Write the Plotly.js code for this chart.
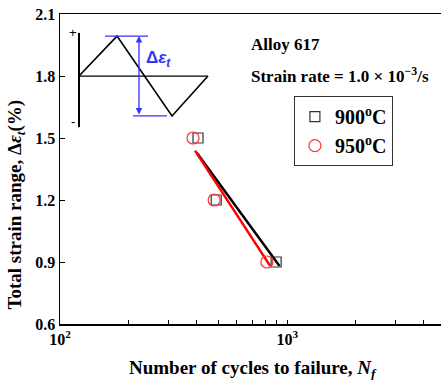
<!DOCTYPE html>
<html><head><meta charset="utf-8">
<script src="https://cdn.plot.ly/plotly-3.0.1.min.js"></script>
<style>html,body{margin:0;padding:0;overflow:hidden;background:#fff}</style>
</head><body><div id="chart"></div>
<script>
// Data
const cycles900 = [405, 487, 894];
const strain900 = [1.5, 1.2, 0.9];
const cycles950 = [385, 477, 814];
const strain950 = [1.5, 1.2, 0.9];
const fitCycles900 = [400, 925];
const fitStrain900 = [1.429, 0.881];
const fitCycles950 = [393, 841];
const fitStrain950 = [1.439, 0.881];
const xTickVals = [100,200,300,400,500,600,700,800,900,1000,2000,3000,4000,5000];
const xTickText = ['10<sup>2</sup>','','','','','','','','','10<sup>3</sup>','','','',''];
const yTickVals = [0.6,0.9,1.2,1.5,1.8,2.1];
// Inset schematic (time, strain in normalized units)
const waveT = [0, 38, 93, 129];
const waveS = [0, 1, -1, 0];
const baseT = [0, 129];
const baseS = [0, 0];
const barT = [0, 0];
const barS = [1.08, -1.28];
const topT = [26, 69], topS = [1, 1];
const botT = [54, 88], botS = [-1, -1];

const serif = 'Liberation Serif, Times New Roman, serif';
const traces = [
  {x: fitCycles900, y: fitStrain900, mode:'lines', line:{color:'#000', width:2.5}, showlegend:false, hoverinfo:'skip'},
  {x: fitCycles950, y: fitStrain950, mode:'lines', line:{color:'#ff0000', width:2.5}, showlegend:false, hoverinfo:'skip'},
  {x: cycles900, y: strain900, mode:'markers', name:'900<sup>o</sup>C',
   marker:{symbol:'square-open', size:10, color:'#333', line:{width:1.2}}},
  {x: cycles950, y: strain950, mode:'markers', name:'950<sup>o</sup>C',
   marker:{symbol:'circle-open', size:12, color:'#ff3030', line:{width:1.2}}},
  {x: waveT, y: waveS, xaxis:'x2', yaxis:'y2', mode:'lines', line:{color:'#000', width:1.6}, showlegend:false, hoverinfo:'skip'},
  {x: baseT, y: baseS, xaxis:'x2', yaxis:'y2', mode:'lines', line:{color:'#000', width:1.3}, showlegend:false, hoverinfo:'skip'},
  {x: barT, y: barS, xaxis:'x2', yaxis:'y2', mode:'lines', line:{color:'#000', width:2}, showlegend:false, hoverinfo:'skip'},
  {x: topT, y: topS, xaxis:'x2', yaxis:'y2', mode:'lines', line:{color:'#3333ff', width:1.3}, showlegend:false, hoverinfo:'skip'},
  {x: botT, y: botS, xaxis:'x2', yaxis:'y2', mode:'lines', line:{color:'#3333ff', width:1.3}, showlegend:false, hoverinfo:'skip'}
];

const layout = {
  width: 450, height: 380,
  margin: {l:60, r:4, t:14, b:56},
  paper_bgcolor:'#fff', plot_bgcolor:'#fff',
  showlegend: true,
  legend: {x:0.606, y:0.735, xanchor:'left', yanchor:'top', bordercolor:'#333', borderwidth:1,
           font:{family:serif, size:20, weight:'bold', color:'#000'}, bgcolor:'#fff', tracegroupgap:0},
  xaxis: {type:'log', range:[2, Math.log10(5000)], showgrid:false, zeroline:false,
          showline:true, linecolor:'#000', linewidth:1.5, mirror:true,
          ticks:'inside', ticklen:4, tickwidth:1, tickcolor:'#000',
          tickmode:'array', tickvals:xTickVals, ticktext:xTickText,
          tickfont:{family:serif, size:16, weight:'bold', color:'#000'}},
  yaxis: {range:[0.6, 2.1], showgrid:false, zeroline:false,
          showline:true, linecolor:'#000', linewidth:1.5, mirror:true,
          ticks:'inside', ticklen:5, tickwidth:1, tickcolor:'#000',
          tickmode:'array', tickvals:yTickVals, ticktext:yTickVals.map(v=>v.toFixed(1)),
          tickfont:{family:serif, size:16, weight:'bold', color:'#000'}},
  xaxis2: {domain:[0.0259, 0.4016], range:[-9, 136], visible:false, anchor:'y2', fixedrange:true},
  yaxis2: {domain:[0.626, 0.948], range:[-1.35, 1.15], visible:false, anchor:'x2', fixedrange:true},
  annotations: [
    {xref:'paper', yref:'paper', x:0.49, y:0.9, xanchor:'left', yanchor:'middle', showarrow:false,
     text:'Alloy 617', font:{family:serif, size:17, weight:'bold', color:'#000'}},
    {xref:'paper', yref:'paper', x:0.49, y:0.803, xanchor:'left', yanchor:'middle', showarrow:false,
     text:'Strain rate = 1.0 × 10<sup>−3</sup>/s', font:{family:serif, size:17, weight:'bold', color:'#000'}},
    {xref:'paper', yref:'paper', x:0.5, y:-0.145, xanchor:'center', yanchor:'middle', showarrow:false,
     text:'Number of cycles to failure, <i>N<sub>f</sub></i>', font:{family:serif, size:19, weight:'bold', color:'#000'}},
    {xref:'paper', yref:'paper', x:-0.113, y:0.387, xanchor:'center', yanchor:'middle', showarrow:false, textangle:-90,
     text:'Total strain range, Δ<i>ε<sub>t</sub></i>(%)', font:{family:serif, size:19, weight:'bold', color:'#000'}},
    {xref:'x2', yref:'y2', x:-6, y:1.08, showarrow:false, text:'+', font:{family:'Liberation Sans, Arial', size:13, color:'#000'}},
    {xref:'x2', yref:'y2', x:-6, y:-1.13, showarrow:false, text:'-', font:{family:'Liberation Sans, Arial', size:13, color:'#000'}},
    {xref:'x2', yref:'y2', x:79, y:0.42, showarrow:false, text:'Δ<i>ε<sub>t</sub></i>',
     font:{family:'Liberation Sans, Arial', size:17, weight:'bold', color:'#3333ff'}},
    {xref:'x2', yref:'y2', axref:'x2', ayref:'y2', x:60, y:1, ax:60, ay:-1, text:'', showarrow:true,
     arrowside:'end+start', arrowhead:2, arrowsize:1, arrowwidth:1.3, arrowcolor:'#3333ff', standoff:0, startstandoff:0}
  ]
};
Plotly.newPlot('chart', traces, layout, {staticPlot:true, displayModeBar:false});
</script></body></html>
